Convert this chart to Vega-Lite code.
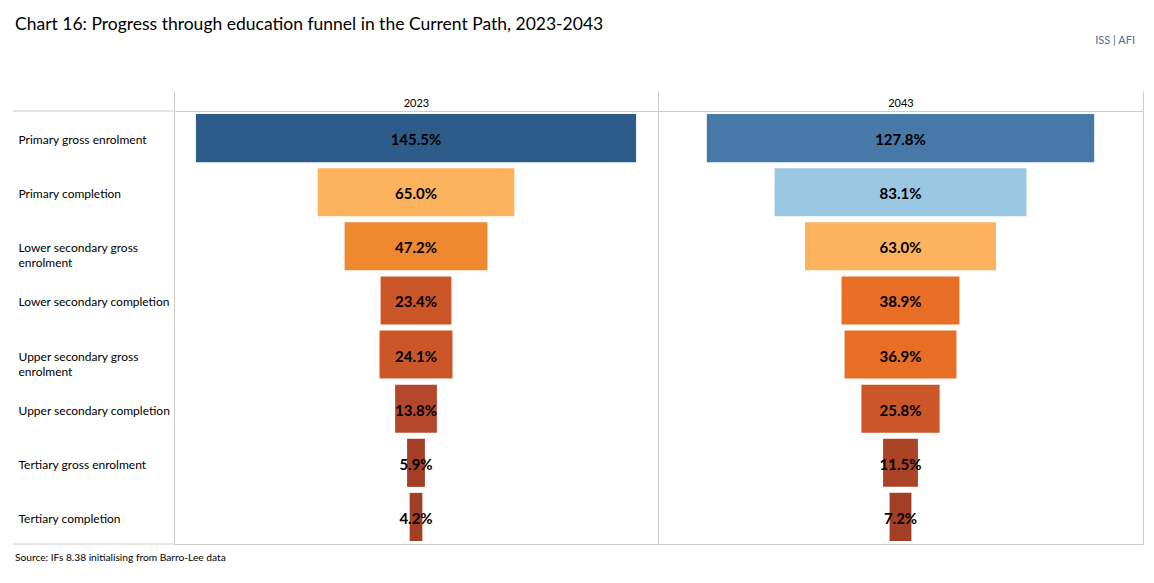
{
  "$schema": "https://vega.github.io/schema/vega-lite/v6.json",
  "padding": {"left": 12, "top": 16, "right": 12, "bottom": 10},
  "bounds": "flush",
  "spacing": 0,
  "title": {
    "text": "Source: IFs 8.38 initialising from Barro-Lee data",
    "orient": "bottom",
    "anchor": "start",
    "frame": "group",
    "baseline": "top",
    "offset": 8,
    "dx": 2,
    "font": "Lato",
    "fontSize": 10.2,
    "fontWeight": "normal",
    "color": "#000000"
  },
  "datasets": {
    "funnel": [
      {"year": "2023", "stage": "Primary gross enrolment", "value": 145.5},
      {"year": "2023", "stage": "Primary completion", "value": 65.0},
      {"year": "2023", "stage": "Lower secondary gross enrolment", "value": 47.2},
      {"year": "2023", "stage": "Lower secondary completion", "value": 23.4},
      {"year": "2023", "stage": "Upper secondary gross enrolment", "value": 24.1},
      {"year": "2023", "stage": "Upper secondary completion", "value": 13.8},
      {"year": "2023", "stage": "Tertiary gross enrolment", "value": 5.9},
      {"year": "2023", "stage": "Tertiary completion", "value": 4.2},
      {"year": "2043", "stage": "Primary gross enrolment", "value": 127.8},
      {"year": "2043", "stage": "Primary completion", "value": 83.1},
      {"year": "2043", "stage": "Lower secondary gross enrolment", "value": 63.0},
      {"year": "2043", "stage": "Lower secondary completion", "value": 38.9},
      {"year": "2043", "stage": "Upper secondary gross enrolment", "value": 36.9},
      {"year": "2043", "stage": "Upper secondary completion", "value": 25.8},
      {"year": "2043", "stage": "Tertiary gross enrolment", "value": 11.5},
      {"year": "2043", "stage": "Tertiary completion", "value": 7.2}
    ]
  },
  "hconcat": [
    {
      "width": 161,
      "height": 433,
      "view": {"stroke": null},
      "data": {"values": [{"id": 1}]},
      "title": {
        "text": "Chart 16: Progress through education funnel in the Current Path, 2023-2043",
        "orient": "top",
        "anchor": "start",
        "frame": "group",
        "baseline": "alphabetic",
        "offset": 63,
        "dx": 2,
        "font": "Lato",
        "fontSize": 17.5,
        "fontWeight": "normal",
        "color": "#000000"
      },
      "layer": [
        {
          "mark": {"type": "rule", "color": "#cccccc", "strokeWidth": 1},
          "encoding": {
            "y": {
              "datum": "Primary gross enrolment",
              "type": "nominal",
              "bandPosition": 0,
              "scale": {
                "type": "band",
                "paddingInner": 0,
                "paddingOuter": 0,
                "domain": ["Primary gross enrolment", "Primary completion", "Lower secondary gross enrolment", "Lower secondary completion", "Upper secondary gross enrolment", "Upper secondary completion", "Tertiary gross enrolment", "Tertiary completion"]
              },
              "axis": {
                "orient": "left",
                "title": null,
                "ticks": false,
                "domain": false,
                "grid": false,
                "labelAlign": "left",
                "labelBaseline": "middle",
                "labelPadding": -5,
                "labelOffset": 2,
                "labelFont": "Lato",
                "labelFontSize": 12,
                "labelColor": "#000000",
                "labelLimit": 0,
                "labelLineHeight": 15,
                "labelExpr": "test(/secondary gross/, datum.value) ? [replace(datum.value, ' enrolment', ''), 'enrolment'] : datum.value"
              }
            }
          }
        },
        {
          "mark": {"type": "rule", "color": "#cccccc", "strokeWidth": 1},
          "encoding": {
            "y": {"datum": "Tertiary completion", "type": "nominal", "bandPosition": 1}
          }
        }
      ]
    },
    {
      "width": 484,
      "height": 433,
      "view": {"stroke": "#cccccc"},
      "data": {"name": "funnel"},
      "transform": [{"filter": "datum.year == '2023'"}],
      "encoding": {
        "y": {
          "field": "stage",
          "type": "nominal",
          "sort": null,
          "scale": {
            "type": "band",
            "paddingInner": 0.111,
            "paddingOuter": 0.0556,
            "domain": ["Primary gross enrolment", "Primary completion", "Lower secondary gross enrolment", "Lower secondary completion", "Upper secondary gross enrolment", "Upper secondary completion", "Tertiary gross enrolment", "Tertiary completion"]
          },
          "axis": null
        }
      },
      "layer": [
        {
          "mark": {"type": "bar"},
          "encoding": {
            "x": {
              "field": "value",
              "type": "quantitative",
              "stack": "center",
              "scale": {"domain": [-7.25, 152.75], "nice": false, "zero": false},
              "axis": {
                "orient": "top",
                "values": [-7.25, 152.75],
                "labels": false,
                "domain": false,
                "grid": false,
                "ticks": true,
                "tickSize": 20,
                "tickColor": "#cccccc",
                "tickWidth": 1,
                "title": "2023",
                "titleFont": "Lato",
                "titleFontSize": 11,
                "titleFontWeight": "normal",
                "titleColor": "#000000",
                "titleBaseline": "middle",
                "titleY": -8
              }
            },
            "color": {
              "field": "value",
              "type": "quantitative",
              "scale": {
                "type": "threshold",
                "domain": [10, 12, 20, 30, 45, 55, 75, 100, 140],
                "range": ["#a23f26", "#ab4424", "#b5482a", "#cb5627", "#e86d25", "#f0882f", "#fdb35e", "#9ac8e3", "#4678a8", "#2d5c8a"]
              },
              "legend": null
            }
          }
        },
        {
          "mark": {
            "type": "text",
            "align": "center",
            "baseline": "middle",
            "dy": 2,
            "font": "Lato",
            "fontSize": 15,
            "fontWeight": "bold",
            "color": "#000000",
            "text": {"expr": "format(datum.value, '.1f') + '%'"}
          },
          "encoding": {}
        }
      ]
    },
    {
      "width": 485,
      "height": 433,
      "view": {"stroke": "#cccccc"},
      "data": {"name": "funnel"},
      "transform": [{"filter": "datum.year == '2043'"}],
      "title": {
        "text": "ISS | AFI",
        "orient": "top",
        "anchor": "end",
        "frame": "group",
        "baseline": "alphabetic",
        "offset": 36,
        "dx": -8,
        "font": "Lato",
        "fontSize": 11,
        "fontWeight": "normal",
        "color": "#4a6d96"
      },
      "encoding": {
        "y": {
          "field": "stage",
          "type": "nominal",
          "sort": null,
          "scale": {
            "type": "band",
            "paddingInner": 0.111,
            "paddingOuter": 0.0556,
            "domain": ["Primary gross enrolment", "Primary completion", "Lower secondary gross enrolment", "Lower secondary completion", "Upper secondary gross enrolment", "Upper secondary completion", "Tertiary gross enrolment", "Tertiary completion"]
          },
          "axis": null
        }
      },
      "layer": [
        {
          "mark": {"type": "bar"},
          "encoding": {
            "x": {
              "field": "value",
              "type": "quantitative",
              "stack": "center",
              "scale": {"domain": [-16.1, 143.9], "nice": false, "zero": false},
              "axis": {
                "orient": "top",
                "values": [-16.1, 143.9],
                "labels": false,
                "domain": false,
                "grid": false,
                "ticks": true,
                "tickSize": 20,
                "tickColor": "#cccccc",
                "tickWidth": 1,
                "title": "2043",
                "titleFont": "Lato",
                "titleFontSize": 11,
                "titleFontWeight": "normal",
                "titleColor": "#000000",
                "titleBaseline": "middle",
                "titleY": -8
              }
            },
            "color": {
              "field": "value",
              "type": "quantitative",
              "scale": {
                "type": "threshold",
                "domain": [10, 12, 20, 30, 45, 55, 75, 100, 140],
                "range": ["#a23f26", "#ab4424", "#b5482a", "#cb5627", "#e86d25", "#f0882f", "#fdb35e", "#9ac8e3", "#4678a8", "#2d5c8a"]
              },
              "legend": null
            }
          }
        },
        {
          "mark": {
            "type": "text",
            "align": "center",
            "baseline": "middle",
            "dy": 2,
            "font": "Lato",
            "fontSize": 15,
            "fontWeight": "bold",
            "color": "#000000",
            "text": {"expr": "format(datum.value, '.1f') + '%'"}
          },
          "encoding": {}
        }
      ]
    }
  ],
  "config": {
    "font": "Lato",
    "background": "#ffffff"
  }
}
